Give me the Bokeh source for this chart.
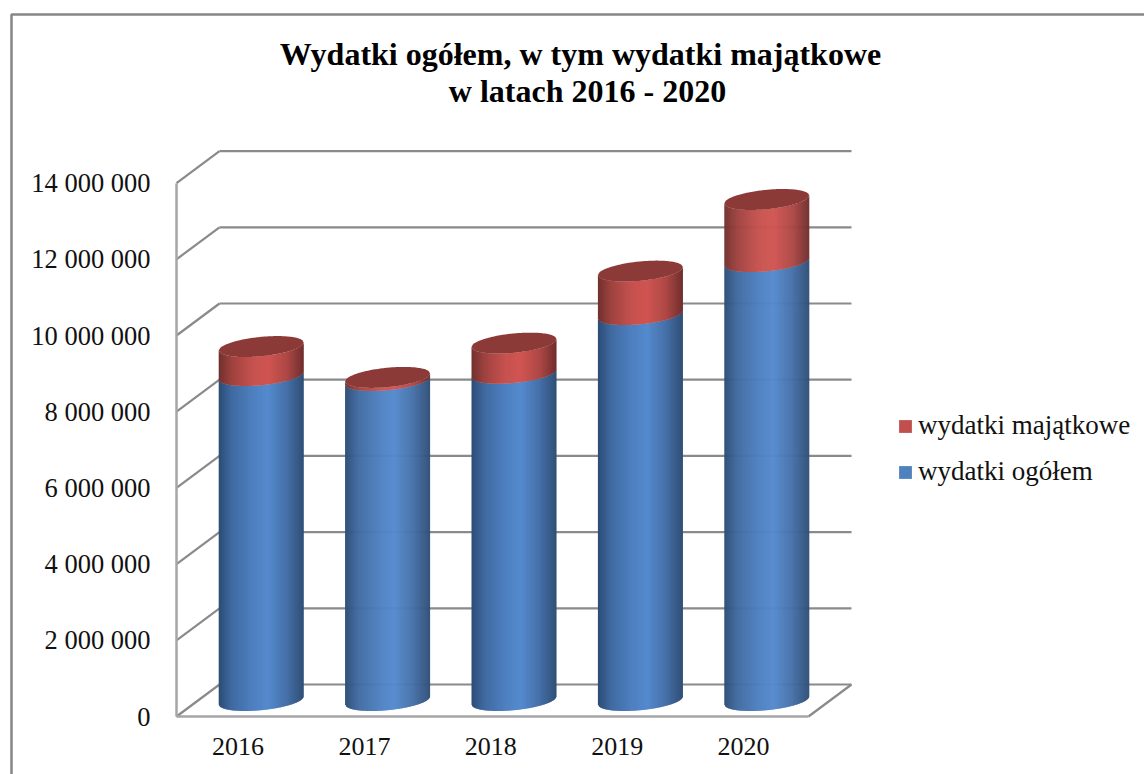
from math import sqrt, nan
from bokeh.plotting import figure
from bokeh.embed import file_html
from bokeh.resources import INLINE
from bokeh.models import Range1d, FixedTicker, BoxAnnotation, Label, Legend, LegendItem

# ---------- data ----------
years = ["2016", "2017", "2018", "2019", "2020"]
wydatki_ogolem = [8530000, 8400000, 8590000, 10130000, 11520000]
wydatki_majatkowe = [760000, 80000, 790000, 1140000, 1630000]
y_ticks = [0, 2000000, 4000000, 6000000, 8000000, 10000000, 12000000, 14000000]
y_tick_labels = ["0", "2 000 000", "4 000 000", "6 000 000", "8 000 000",
                 "10 000 000", "12 000 000", "14 000 000"]
title_lines = ["Wydatki  ogółem, w tym wydatki majątkowe", "w latach 2016 - 2020"]
series_names = ["wydatki majątkowe", "wydatki ogółem"]

# ---------- style ----------
W, H = 1144, 774
GRID = "#8a8a8a"
FONT = "Liberation Serif"
BLUE_STOPS = [(0, (43, 76, 116)), (.15, (64, 106, 160)), (.4, (78, 128, 192)),
              (.58, (84, 138, 206)), (.8, (70, 112, 168)), (1, (47, 79, 118))]
RED_STOPS = [(0, (112, 48, 46)), (.15, (158, 66, 63)), (.4, (198, 82, 79)),
             (.58, (208, 85, 82)), (.8, (174, 72, 70)), (1, (112, 46, 45))]
CAP = "#8c3a38"

# pixel scale of the plot
PX_X = 126.4          # px per category
PX_Y = 38.1 / 1e6     # px per unit of value
X0_PX, Y0_PX = 239.2, 716.0   # page px of category 0 / value 0
LABEL_SHIFT = 1.7 / PX_X      # year labels sit slightly left of the category centre


def xd(px):
    return (px - X0_PX) / PX_X


def yd(px):
    return (Y0_PX - px) / PX_Y


DX = 43 / PX_X        # depth of the 3D box
DY = 32 / PX_Y
A = 42.5 / PX_X       # cylinder half width
B = 9.7 / PX_Y        # ellipse half height
S = 4 / PX_Y          # tilt of the ellipses
N = 85

p = figure(width=W, height=H, toolbar_location=None, output_backend="svg",
           x_range=Range1d(xd(0), xd(W)), y_range=Range1d(yd(H), yd(0)),
           min_border=0, outline_line_color=None, background_fill_color="white")
p.grid.visible = False

# outer chart frame
p.add_layout(BoxAnnotation(left=11, top=14, right=W + 50, bottom=H + 50,
                           left_units="canvas", right_units="canvas",
                           top_units="canvas", bottom_units="canvas",
                           fill_alpha=0, line_color="#868686", line_alpha=1, line_width=2.5))

# 3D walls
x_left, x_right = -0.5, len(years) - 0.5
gx0, gy0, gx1, gy1 = [], [], [], []
for t in y_ticks:
    gx0 += [x_left, x_left + DX]
    gy0 += [t, t + DY]
    gx1 += [x_left + DX, x_right + DX]
    gy1 += [t + DY, t + DY]
gx0.append(x_right); gy0.append(0); gx1.append(x_right + DX); gy1.append(DY)
p.segment(gx0, gy0, gx1, gy1, line_color=GRID, line_width=2.2)


def shade(stops, t):
    for (t0, c0), (t1, c1) in zip(stops, stops[1:]):
        if t <= t1:
            f = (t - t0) / (t1 - t0)
            return "#%02x%02x%02x" % tuple(round(a + (b - a) * f) for a, b in zip(c0, c1))
    return "#%02x%02x%02x" % stops[-1][1]


def front(u):
    return -B * sqrt(max(0, 1 - u * u)) + S * u


def back(u):
    return B * sqrt(max(0, 1 - u * u)) + S * u


def body(cx, base, top, stops):
    xs, ys, cols = [], [], []
    for k in range(N):
        u0 = -1 + 2 * k / N
        u1 = min(1, -1 + 2 * (k + 1.6) / N)
        xs.append([cx + A * u0, cx + A * u1, cx + A * u1, cx + A * u0])
        ys.append([base + front(u0), base + front(u1), top + front(u1), top + front(u0)])
        cols.append(shade(stops, (k + .5) / N))
    p.patches(xs, ys, fill_color=cols, line_color=None)


for i, (blue, red) in enumerate(zip(wydatki_ogolem, wydatki_majatkowe)):
    cx = i + DX / 2
    off = DY / 2
    body(cx, off, off + blue, BLUE_STOPS)
    total = off + blue + red
    body(cx, off + blue, total, RED_STOPS)
    us = [-1 + 2 * k / 60 for k in range(61)]
    ex = [cx + A * u for u in us] + [cx + A * u for u in reversed(us)]
    ey = [total + front(u) for u in us] + [total + back(u) for u in reversed(us)]
    p.patch(ex, ey, fill_color=CAP, line_color=None)

# axes
tick_positions = [i - LABEL_SHIFT for i in range(len(years))]
xax = p.xaxis[0]
xax.fixed_location = 0
xax.bounds = (x_left, x_right)
xax.ticker = FixedTicker(ticks=tick_positions)
xax.major_label_overrides = dict(zip(tick_positions, years))
xax.major_label_text_font = FONT
xax.major_label_text_font_size = "26px"
xax.major_label_text_color = "#111111"
xax.major_label_standoff = 15
xax.major_tick_line_color = None
xax.minor_tick_line_color = None
xax.axis_line_color = "#a6a6a6"
xax.axis_line_width = 2.5

yax = p.yaxis[0]
yax.fixed_location = x_left
yax.bounds = (0, y_ticks[-1])
yax.ticker = FixedTicker(ticks=y_ticks)
yax.major_label_overrides = dict(zip(y_ticks, y_tick_labels))
yax.major_label_text_font = FONT
yax.major_label_text_font_size = "26.5px"
yax.major_label_text_color = "#111111"
yax.major_label_standoff = 20
yax.major_tick_line_color = None
yax.minor_tick_line_color = None
yax.axis_line_color = "#a6a6a6"
yax.axis_line_width = 2.5

# title
for line, px, py in zip(title_lines, (584, 587), (53, 90)):
    p.add_layout(Label(x=xd(px), y=yd(py), text=line, text_align="center",
                       text_baseline="middle", text_font=FONT, text_font_style="bold",
                       text_font_size="32px", text_color="black"))

# legend
r_red = p.quad(left=[nan], right=[nan], top=[nan], bottom=[nan], fill_color="#c0504d", line_color=None)
r_blue = p.quad(left=[nan], right=[nan], top=[nan], bottom=[nan], fill_color="#4f81bd", line_color=None)
legend = Legend(items=[LegendItem(label=series_names[0], renderers=[r_red]),
                       LegendItem(label=series_names[1], renderers=[r_blue])],
                location=(897, 287), background_fill_alpha=0, border_line_color=None,
                margin=0, padding=0, spacing=15, glyph_width=16, glyph_height=16,
                label_standoff=5, label_text_font=FONT, label_text_font_size="27px",
                label_text_color="#111111", label_height=28)
p.add_layout(legend, "center")

open("out.html", "w").write(file_html(p, INLINE))
